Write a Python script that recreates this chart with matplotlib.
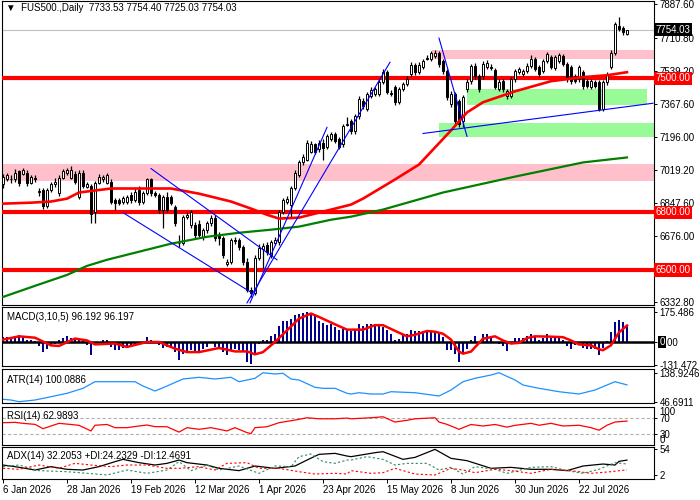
import matplotlib
matplotlib.use("Agg")
import matplotlib.pyplot as plt
import matplotlib.transforms as mtrans

plt.rcParams['font.family'] = ['Liberation Sans', 'DejaVu Sans']
plt.rcParams['font.size'] = 7

# ---- price data (daily candles, 6 Jan 2026 .. early Aug 2026) ----
opens = [6946, 6977, 6977, 6972, 7014, 7003, 7008, 6956, 6982, 6914,
         6919, 6836, 6919, 6946, 6904, 6982, 7008, 6982, 7003, 6883,
         7008, 6935, 6940, 6804, 6956, 6972, 6956, 6961, 6867, 6867,
         6857, 6857, 6893, 6867, 6919, 6857, 6904, 6972, 6904, 6893,
         6815, 6883, 6883, 6830, 6642, 6642, 6778, 6736, 6736, 6741,
         6673, 6710, 6747, 6773, 6684, 6668, 6532, 6542, 6658, 6658,
         6621, 6542, 6396, 6380, 6563, 6610, 6631, 6579, 6642, 6647,
         6804, 6857, 6841, 6930, 6998, 7061, 7076, 7118, 7155, 7129,
         7165, 7139, 7181, 7207, 7181, 7155, 7260, 7275, 7223, 7302,
         7380, 7338, 7406, 7417, 7417, 7480, 7532, 7422, 7453, 7375,
         7443, 7469, 7521, 7568, 7532, 7558, 7605, 7600, 7616, 7631,
         7589, 7537, 7364, 7417, 7380, 7275, 7443, 7485, 7563, 7511,
         7511, 7558, 7558, 7542, 7443, 7485, 7406, 7406, 7495, 7532,
         7521, 7537, 7563, 7600, 7558, 7537, 7589, 7610, 7553, 7589,
         7616, 7574, 7558, 7511, 7495, 7532, 7485, 7453, 7480, 7480,
         7338, 7480, 7558, 7631, 7773, 7762, 7733.53]
highs = [7003, 7008, 6993, 7029, 7024, 7034, 7024, 6998, 6993, 6930,
         6930, 6930, 6961, 6982, 6993, 7029, 7034, 7045, 7014, 7019,
         7019, 6961, 6951, 6966, 7003, 6998, 7008, 6972, 6877, 6877,
         6888, 6893, 6909, 6925, 6940, 6914, 6982, 6982, 6914, 6904,
         6893, 6909, 6893, 6841, 6684, 6788, 6804, 6815, 6752, 6762,
         6720, 6757, 6788, 6788, 6699, 6679, 6558, 6668, 6673, 6668,
         6631, 6563, 6412, 6579, 6637, 6642, 6647, 6658, 6673, 6815,
         6877, 6888, 6940, 7019, 7076, 7103, 7176, 7171, 7165, 7176,
         7181, 7207, 7218, 7218, 7192, 7260, 7296, 7286, 7312, 7406,
         7396, 7427, 7453, 7453, 7495, 7548, 7542, 7438, 7464, 7453,
         7480, 7511, 7584, 7579, 7584, 7600, 7621, 7642, 7647, 7642,
         7600, 7548, 7432, 7427, 7391, 7411, 7495, 7574, 7579, 7521,
         7589, 7595, 7574, 7553, 7495, 7495, 7443, 7506, 7548, 7558,
         7548, 7579, 7621, 7610, 7568, 7600, 7637, 7621, 7621, 7631,
         7626, 7584, 7568, 7521, 7568, 7542, 7495, 7495, 7490, 7490,
         7490, 7532, 7647, 7794, 7820, 7773, 7754.40]
lows = [6930, 6966, 6956, 6961, 6940, 6993, 6940, 6946, 6961, 6888,
        6820, 6825, 6909, 6935, 6888, 6972, 6998, 6972, 6951, 6872,
        6930, 6925, 6747, 6747, 6946, 6961, 6946, 6846, 6815, 6841,
        6846, 6846, 6851, 6857, 6841, 6846, 6893, 6888, 6883, 6799,
        6720, 6804, 6841, 6731, 6621, 6631, 6768, 6720, 6668, 6673,
        6658, 6694, 6731, 6652, 6631, 6563, 6521, 6532, 6637, 6605,
        6527, 6385, 6359, 6370, 6553, 6511, 6579, 6563, 6631, 6631,
        6794, 6846, 6773, 6919, 6987, 7050, 7066, 7108, 7103, 7118,
        7076, 7129, 7171, 7160, 7129, 7144, 7249, 7212, 7207, 7286,
        7338, 7328, 7396, 7406, 7406, 7469, 7417, 7406, 7359, 7364,
        7432, 7459, 7511, 7516, 7521, 7548, 7595, 7589, 7605, 7558,
        7521, 7385, 7349, 7260, 7244, 7244, 7427, 7469, 7495, 7427,
        7495, 7548, 7542, 7443, 7432, 7427, 7391, 7396, 7480, 7521,
        7511, 7527, 7553, 7537, 7506, 7527, 7579, 7548, 7542, 7579,
        7563, 7480, 7469, 7474, 7480, 7443, 7448, 7443, 7448, 7328,
        7328, 7464, 7548, 7621, 7746, 7726, 7725.03]
closes = [6987, 6993, 6972, 7008, 6956, 7019, 6956, 6987, 6972, 6909,
          6836, 6919, 6946, 6961, 6982, 7014, 7024, 7019, 6961, 7008,
          6940, 6951, 6794, 6956, 6987, 6987, 6998, 6857, 6851, 6851,
          6877, 6883, 6867, 6909, 6857, 6904, 6977, 6904, 6893, 6815,
          6883, 6815, 6851, 6747, 6640, 6778, 6788, 6804, 6684, 6684,
          6710, 6747, 6773, 6668, 6668, 6579, 6542, 6658, 6652, 6621,
          6542, 6396, 6380, 6563, 6616, 6626, 6595, 6647, 6658, 6804,
          6867, 6872, 6930, 7008, 7061, 7087, 7165, 7155, 7118, 7165,
          7134, 7197, 7207, 7171, 7139, 7249, 7258, 7223, 7302, 7391,
          7354, 7417, 7438, 7443, 7480, 7532, 7427, 7420, 7375, 7443,
          7469, 7495, 7568, 7532, 7568, 7589, 7603, 7631, 7631, 7574,
          7537, 7401, 7417, 7275, 7260, 7401, 7480, 7563, 7511, 7443,
          7574, 7579, 7556, 7453, 7480, 7443, 7432, 7495, 7537, 7548,
          7537, 7563, 7600, 7548, 7521, 7589, 7626, 7558, 7610, 7621,
          7574, 7495, 7485, 7485, 7558, 7459, 7459, 7485, 7459, 7338,
          7480, 7521, 7631, 7783, 7757, 7741, 7754.03]

# moving averages, read at sampled bars
ma_red_bars = [0, 7, 12, 16, 19, 27, 42, 49, 57, 62, 66, 69, 74, 79, 87, 90, 98,
               104, 112, 116, 120, 128, 137, 145, 151, 156]
ma_red_vals = [6846, 6851, 6857, 6872, 6904, 6925, 6925, 6898, 6857, 6820, 6788,
               6768, 6773, 6799, 6841, 6872, 6972, 7050, 7228, 7322, 7375, 7432,
               7485, 7506, 7516, 7532]
ma_green_bars = [0, 8, 16, 21, 26, 34, 42, 51, 59, 67, 74, 82, 87, 95, 110, 128, 145, 156]
ma_green_vals = [6359, 6417, 6474, 6521, 6553, 6595, 6637, 6673, 6694, 6710, 6726,
                 6762, 6778, 6815, 6904, 6987, 7061, 7087]

levels = [7500.00, 6800.00, 6500.00]
price_ticks = [7887.60, 7710.80, 7539.20, 7367.60, 7196.00, 7019.20, 6847.60,
               6676.00, 6332.80]
last_price = 7754.03

# zones: (first bar, price low, price high, colour)
zones = [(-1, 6965, 7055, '#FFC0CB'),
         (107.25, 7600, 7650, '#FFC0CB'),
         (116, 7360, 7443, '#98FB98'),
         (109, 7195, 7265, '#98FB98')]
zone_end = [163, 163, 161, 163]

# trend lines: (bar0, price0, bar1, price1)
trend_lines = [(37, 7029, 68.5, 6553),
               (30, 6799, 62.25, 6380),
               (61.75, 6328, 81, 7244),
               (61, 6328, 96.75, 7584),
               (109, 7710, 116, 7197),
               (105, 7212, 162.5, 7370)]

# ---- indicators ----
macd_hist = [29, 29, 29, 33, 39, 33, 9, 9, 6, -23,
             -59, -43, -20, -9, 9, 25, 33, 25, 20, 9,
             6, -20, -73, -20, 2, 9, 9, -29, -45, -45,
             -35, -35, -29, -16, -20, -6, 29, 9, -4, -16,
             -35, -29, -35, -59, -107, -68, -59, -48, -59, -59,
             -39, -29, -4, -29, -35, -59, -78, -48, -39, -45,
             -59, -116, -131, -68, -14, 14, 14, 33, 48, 91,
             121, 121, 136, 155, 166, 169, 175, 169, 150, 123,
             111, 97, 103, 87, 72, 78, 68, 64, 72, 103,
             91, 107, 107, 103, 97, 87, 68, 45, 14, 20,
             39, 48, 68, 62, 62, 62, 68, 62, 62, 52,
             29, -45, -48, -72, -116, -68, -39, 14, 33, 2,
             45, 45, 29, -6, -9, -25, -52, -9, 25, 25,
             25, 33, 48, 33, 9, 25, 45, 25, 29, 29,
             14, -25, -39, -20, -9, -33, -39, -39, -39, -78,
             -33, 3, 59, 116, 130, 116, 96]
macd_sig_bars = [0, 4, 8, 12, 14, 18, 21, 23, 28, 31, 36, 39, 43, 46, 49, 54, 58, 61,
                 63, 65, 68, 71, 74, 77, 79, 83, 86, 90, 93, 95, 98, 101, 103, 106,
                 108, 110, 112, 114, 115, 117, 120, 123, 125, 127, 129, 131, 133, 137,
                 140, 142, 144, 147, 149, 150, 152, 154, 156]
macd_sig_vals = [14, 33, 25, -20, -23, 20, 9, -14, -9, -29, 0, 0, -39, -59, -59, -35,
                 -55, -55, -72, -59, 0, 68, 136, 166, 146, 103, 72, 72, 98, 98, 65, 33,
                 42, 64, 60, 48, 14, -56, -68, -56, 19, 33, 9, -9, -5, 23, 33, 31, 28,
                 9, -14, -20, -42, -48, -19, 56, 96]

atr_bars = [0, 2, 4, 8, 12, 16, 20, 23, 28, 33, 35, 38, 41, 45, 49, 53, 57, 59, 63, 65,
            68, 70, 72, 74, 78, 80, 83, 86, 87, 89, 92, 95, 97, 103, 109, 112, 115, 118,
            122, 124, 128, 130, 134, 139, 144, 148, 153, 156]
atr_vals = [54.3, 52.1, 46.7, 52.1, 62.6, 73.4, 89.3, 110.3, 110.3, 110.3,
            96.6, 80.7, 96.6, 118.9, 124.3, 118.9, 124.3, 110.3, 121.1, 138.9,
            134.8, 137.0, 118.9, 115.7, 92.5, 89.3, 89.3, 73.4, 71.2, 75.3,
            71.2, 71.2, 78.5, 75.3, 64.8, 83.9, 110.3, 121.1, 131.6, 138.9,
            115.7, 99.8, 89.3, 78.5, 71.2, 83.9, 110.3, 100.09]

rsi_bars = [0, 3, 5, 8, 10, 12, 14, 17, 19, 22, 23, 26, 28, 31, 34, 36, 38, 41, 44, 46,
            49, 52, 56, 58, 61, 62, 63, 66, 69, 73, 76, 79, 83, 86, 87, 92, 95, 98, 101,
            103, 108, 109, 111, 114, 117, 120, 123, 126, 128, 132, 134, 137, 140, 144,
            147, 149, 151, 153, 156]
rsi_vals = [58.7, 59.6, 57, 54.3, 43, 50, 57, 54, 51.7, 37,
            52, 54, 45.6, 45.6, 50, 52.6, 48.3, 48, 34, 45.6,
            41.3, 45.6, 37, 45.6, 32.6, 30, 45.6, 48, 58.7, 65.6,
            71.7, 69, 69, 70.8, 69, 71.7, 74.3, 60.4, 65, 69,
            71.7, 60.4, 54.3, 41.3, 54, 50, 54, 47, 51.7, 57,
            52, 57, 50, 52, 45.6, 39, 52, 60.4, 63]

adx_bars = [0, 3, 8, 12, 16, 20, 24, 28, 30, 34, 38, 41, 44, 46, 51, 54, 59, 63, 68, 73,
            76, 79, 83, 86, 87, 93, 95, 100, 103, 108, 112, 116, 122, 127, 132, 137,
            141, 145, 150, 153, 154, 156]
adx_vals = [22.2, 18.9, 12.1, 18.9, 13.5, 12.1, 18.9, 29.0, 33.7, 27.0,
            22.2, 25.6, 32.3, 27.0, 22.2, 15.5, 10.8, 20.2, 15.5, 20.2,
            32.3, 43.8, 45.8, 40.4, 39.1, 47.2, 49.2, 33.7, 37.7, 53.9,
            35.7, 31.0, 15.5, 17.5, 13.5, 13.5, 10.8, 20.2, 24.2, 22.2,
            29.6, 32.2]
pdi_bars = [0, 4, 9, 16, 21, 26, 31, 36, 41, 44, 47, 51, 54, 59, 64, 68, 72, 74, 77, 80,
            83, 86, 87, 91, 95, 98, 101, 106, 109, 112, 115, 118, 123, 126, 132, 137,
            141, 145, 149, 153, 156]
pdi_vals = [18.9, 22.2, 10.8, 8.7, 5.4, 2.0, 12.1, 5.4, 12.1, 29.0,
            10.8, 22.2, 12.1, 20.2, 5.4, 20.2, 18.9, 39.1, 44.5, 29.0,
            25.6, 32.3, 32.3, 39.1, 33.7, 22.2, 25.6, 25.6, 12.1, 17.5,
            4.0, 18.9, 13.5, 5.4, 17.5, 18.9, 10.8, 5.4, 13.5, 27.0,
            24.2]
mdi_bars = [0, 4, 9, 14, 18, 22, 27, 31, 36, 41, 44, 49, 53, 56, 61, 64, 69, 74, 78, 83,
            86, 87, 92, 95, 98, 103, 108, 112, 115, 118, 123, 127, 132, 137, 142, 147,
            152, 156]
mdi_vals = [15.5, 13.5, 22.2, 15.5, 25.6, 22.2, 18.9, 22.2, 22.2, 15.5,
            15.5, 18.9, 12.1, 25.6, 27.0, 15.5, 15.5, 8.7, 4.0, 5.4,
            4.0, 10.8, 5.4, 6.7, 15.5, 4.0, 2.0, 15.5, 12.1, 6.7,
            13.5, 10.8, 5.4, 13.5, 10.8, 5.4, 8.7, 12.5]

date_bars = [0, 16, 32, 48, 64, 80, 96, 112, 128, 144]
date_labels = ['6 Jan 2026', '28 Jan 2026', '19 Feb 2026', '12 Mar 2026', '1 Apr 2026',
               '23 Apr 2026', '15 May 2026', '8 Jun 2026', '30 Jun 2026', '22 Jul 2026']

# ---- layout (pixel rows of the 700x500 picture) ----
W, H = 700, 500
fig = plt.figure(figsize=(7, 5), dpi=100)


def panel(top, bottom):
    a = fig.add_axes([2 / W, 1 - bottom / H, 652 / W, (bottom - top) / H])
    a.set_xlim(-0.25, 162.75)
    a.tick_params(axis='x', bottom=False, labelbottom=False)
    a.yaxis.tick_right()
    a.tick_params(axis='y', length=2.5, pad=1.5, labelsize=7, width=0.7)
    for s in a.spines.values():
        s.set_linewidth(0.8)
        s.set_color('black')
    return a


ax = panel(1, 305)
axm = panel(307, 366)
axa = panel(369, 403)
axr = panel(407, 445)
axd = panel(447, 479)

blend = mtrans.blended_transform_factory(ax.transAxes, ax.transData)

# main chart
ax.set_ylim(6317, 7903.5)
for (b0, lo, hi, col), b1 in zip(zones, zone_end):
    ax.fill_between([b0, b1], lo, hi, color=col, lw=0, zorder=1)
ax.axhline(last_price, color='#c0c0c0', lw=0.8, zorder=2)
for lv in levels:
    ax.axhline(lv, color='red', lw=3, zorder=3)

idx = list(range(len(closes)))
ax.vlines(idx, lows, highs, color='black', lw=0.9, zorder=4)
bottoms = [min(o, c) for o, c in zip(opens, closes)]
heights = [max(abs(c - o), 3) for o, c in zip(opens, closes)]
fills = ['white' if c >= o else 'black' for o, c in zip(opens, closes)]
ax.bar(idx, heights, bottom=bottoms, width=0.7, color=fills, edgecolor='black',
       linewidth=0.7, zorder=5)

ax.plot(ma_red_bars, ma_red_vals, color='red', lw=1.9, zorder=6)
ax.plot(ma_green_bars, ma_green_vals, color='#008000', lw=1.6, zorder=6)
for b0, p0, b1, p1 in trend_lines:
    ax.plot([b0, b1], [p0, p1], color='blue', lw=0.8, zorder=6)

ax.set_yticks(price_ticks)
ax.set_yticklabels(['%.2f' % v for v in price_ticks])
for lv in levels:
    ax.text(1.002, lv, '%.2f' % lv, transform=blend, color='white', fontsize=7,
            va='center', ha='left', clip_on=False, zorder=10,
            bbox=dict(boxstyle='square,pad=0.18', fc='red', ec='none'))
ax.text(1.002, last_price, '%.2f' % last_price, transform=blend, color='white',
        fontsize=7, va='center', ha='left', clip_on=False, zorder=10,
        bbox=dict(boxstyle='square,pad=0.18', fc='black', ec='none'))
ax.text(0.006, 0.992, '\u25bc  FUS500.,Daily  7733.53 7754.40 7725.03 7754.03',
        transform=ax.transAxes, va='top', ha='left', fontsize=7)

# MACD
axm.set_ylim(-140, 204)
axm.bar(idx, macd_hist, width=0.65, color='#00008B', zorder=2)
axm.axhline(0, color='black', lw=1.8, zorder=3)
axm.plot(macd_sig_bars, macd_sig_vals, color='red', lw=1.8, zorder=4)
axm.set_yticks([175.486, 0, -131.472])
axm.set_yticklabels(['175.486', '0.00', '-131.472'])
axm.text(0.008, 0.915, 'MACD(3,10,5) 96.192 96.197', transform=axm.transAxes,
         va='top', ha='left', fontsize=7)
mblend = mtrans.blended_transform_factory(axm.transAxes, axm.transData)
axm.text(1.0, 0, '0', transform=mtrans.offset_copy(mblend, fig=fig, x=4.0, y=0, units='points'),
         color='white', fontsize=7, va='center', ha='left', clip_on=False, zorder=10,
         bbox=dict(boxstyle='square,pad=0.15', fc='black', ec='none'))

# ATR
axa.set_ylim(42.6, 150.7)
axa.plot(atr_bars, atr_vals, color='#1E90FF', lw=0.9)
axa.set_yticks([138.9246, 46.6911])
axa.set_yticklabels(['138.9246', '46.6911'])
axa.text(0.008, 0.82, 'ATR(14) 100.0886', transform=axa.transAxes, va='top',
         ha='left', fontsize=7)

# RSI
axr.set_ylim(0, 100)
for lv in (70, 30):
    axr.axhline(lv, color='#b0b0b0', lw=0.8, ls=(0, (3, 2)))
axr.plot(rsi_bars, rsi_vals, color='red', lw=0.9)
axr.set_yticks([70, 30])
axr.set_yticklabels(['70', '30'])
rblend = mtrans.blended_transform_factory(axr.transAxes, axr.transData)
rsi_off = mtrans.offset_copy(rblend, fig=fig, x=4.0, y=0, units='points')
axr.text(1.0, 99, '100', transform=rsi_off, va='top', ha='left', fontsize=7, clip_on=False)
axr.text(1.0, 1, '0', transform=rsi_off, va='bottom', ha='left', fontsize=7, clip_on=False)
axr.text(0.008, 0.9, 'RSI(14) 62.9893', transform=axr.transAxes, va='top',
         ha='left', fontsize=7)

# ADX
axd.set_ylim(-6.1, 58.7)
axd.plot(adx_bars, adx_vals, color='black', lw=0.9)
axd.plot(pdi_bars, pdi_vals, color='#2E8B57', lw=0.8, ls=(0, (2, 2)))
axd.plot(mdi_bars, mdi_vals, color='red', lw=0.8, ls=(0, (2, 2)))
axd.set_yticks([54, 2])
axd.set_yticklabels(['54', '2'])
axd.text(0.008, 0.86, 'ADX(14) 32.2053 +DI:24.2329 -DI:12.4691',
         transform=axd.transAxes, va='top', ha='left', fontsize=7)

axd.tick_params(axis='x', bottom=True, labelbottom=True, length=3, pad=1.5,
                labelsize=7, width=0.7)
axd.set_xticks(date_bars)
axd.set_xticklabels(date_labels)
for lab in axd.get_xticklabels():
    lab.set_ha('left')

fig.savefig('out.png', dpi=100)
